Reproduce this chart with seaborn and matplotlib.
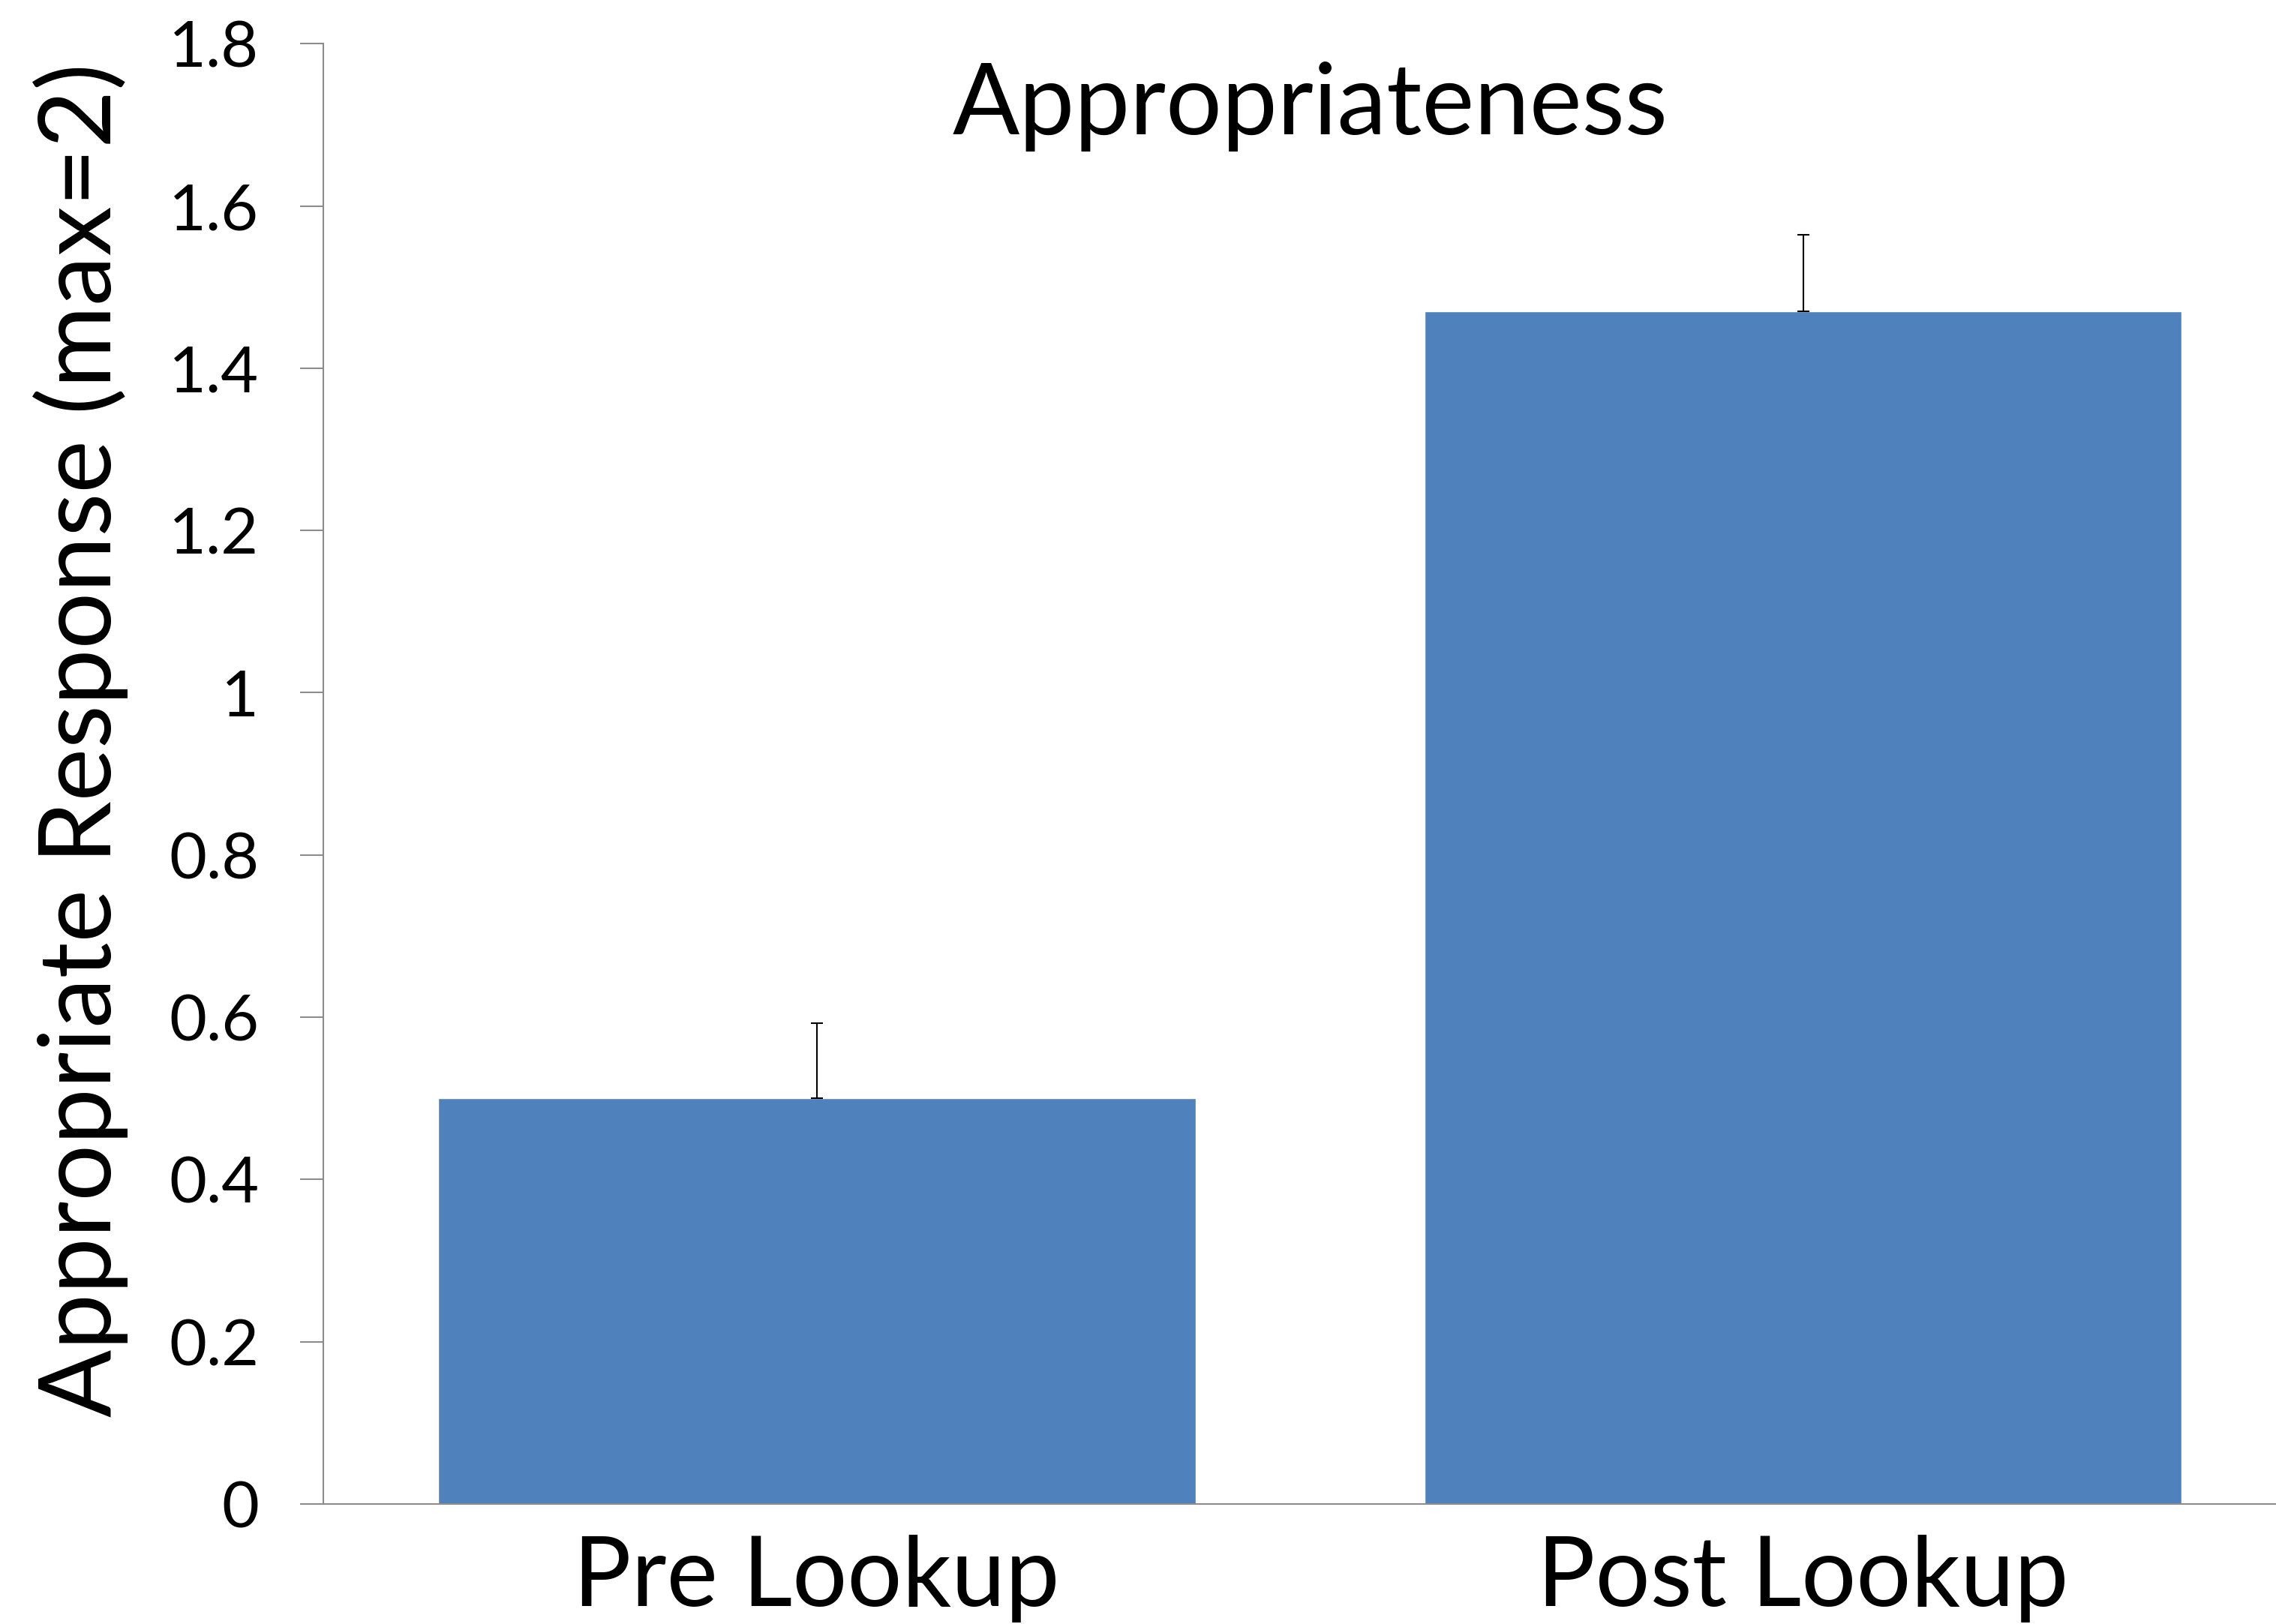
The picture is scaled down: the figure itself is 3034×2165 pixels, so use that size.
import matplotlib
matplotlib.use("Agg")
import matplotlib.pyplot as plt
import seaborn as sns
import pandas as pd

# values
categories = ["Pre Lookup", "Post Lookup"]
means = [0.50, 1.47]
errors = [0.093, 0.095]
y_ticks = [0, 0.2, 0.4, 0.6, 0.8, 1.0, 1.2, 1.4, 1.6, 1.8]

bar_color = "#4F81BD"
axis_color = "#8C8C8C"

sns.set_style("white")
plt.rcParams["font.family"] = ["Lato", "DejaVu Sans"]
plt.rcParams["text.color"] = "black"
plt.rcParams["axes.labelcolor"] = "black"

df = pd.DataFrame({"group": categories, "score": means})

fig = plt.figure(figsize=(30.34, 21.65), dpi=100)
# the plot area runs a little past the right edge of the picture
ax = fig.add_axes([0.1421, 0.074, 0.8668, 0.899])

sns.barplot(data=df, x="group", y="score", color=bar_color, saturation=1,
            width=0.768, errorbar=None, ax=ax)

# only the upper half of the error bar is drawn
ax.errorbar(range(len(means)), means, yerr=[[0] * len(errors), errors],
            fmt="none", ecolor="black", elinewidth=1.5, capsize=6, capthick=1.5)

ax.set_xlim(-0.5, 1.5)
ax.set_ylim(0, 1.8)
ax.set_yticks(y_ticks)
ax.set_yticklabels([f"{t:g}" for t in y_ticks])

ax.set_xticks([0, 1])
ax.set_xticklabels(categories)
ax.set_xticks([-0.5, 0.5, 1.5], minor=True)
ax.tick_params(axis="x", which="major", length=0, pad=30, labelsize=93,
               labelcolor="black")
ax.tick_params(axis="x", which="minor", length=8, width=1.2, color=axis_color)
ax.tick_params(axis="y", which="major", length=22, width=1.5, color=axis_color,
               pad=40, labelsize=62, left=True, labelcolor="black")

for side in ["top", "right"]:
    ax.spines[side].set_visible(False)
for side in ["left", "bottom"]:
    ax.spines[side].set_color(axis_color)
    ax.spines[side].set_linewidth(1.5)

ax.set_xlabel("")
ax.set_ylabel("Appropriate Response (max=2)", fontsize=96)
ax.yaxis.set_label_coords(-0.099, 0.523)
ax.text(0.5, 0.988, "Appropriateness", transform=ax.transAxes, ha="center",
        va="top", fontsize=95)

fig.savefig("out.png", dpi=100)
